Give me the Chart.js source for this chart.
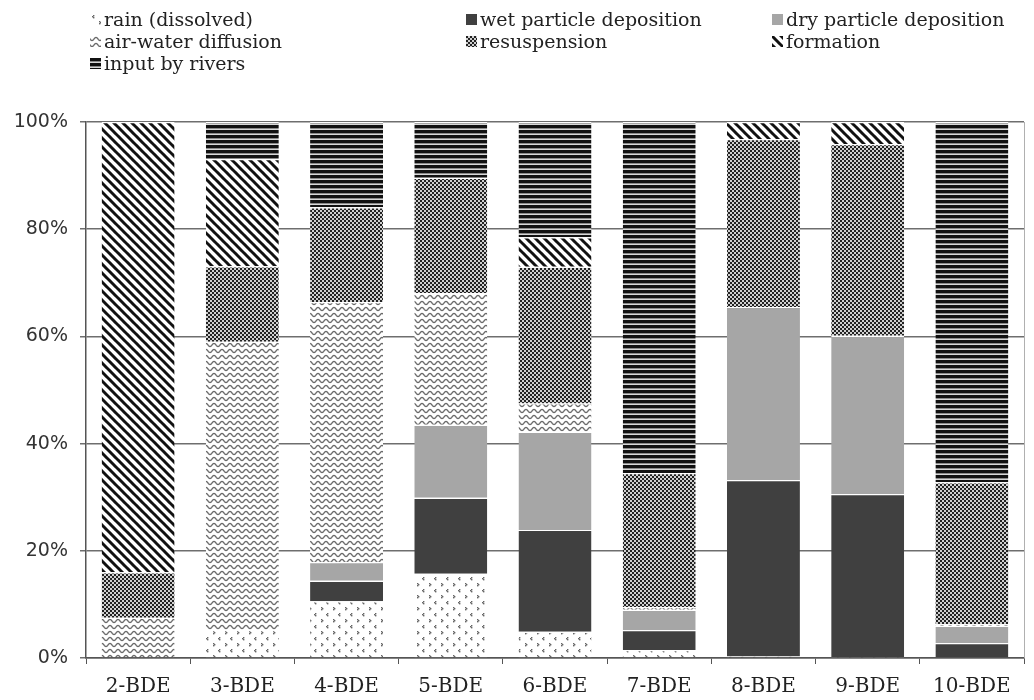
<!DOCTYPE html>
<html>
<head>
<meta charset="utf-8">
<script src="https://cdn.jsdelivr.net/npm/chart.js@4/dist/chart.umd.min.js"></script>
<style>
  body { margin: 0; background: #fff; }
  #wrap { position: relative; width: 1034px; height: 700px; }
  #legend { position: absolute; left: 0; top: 0; width: 1034px; height: 100px; font-family: "DejaVu Serif", serif; font-size: 19px; color: #222; }
  .item { position: absolute; white-space: nowrap; line-height: 22px; }
  .item canvas { display: inline-block; vertical-align: middle; margin-right: 3px; position: relative; top: -2px; }
</style>
</head>
<body>
<div id="wrap">
  <canvas id="chart"></canvas>
  <div id="legend"></div>
</div>
<script>
// data (percent of total input, stacked bottom to top)
const categories = ['2-BDE', '3-BDE', '4-BDE', '5-BDE', '6-BDE', '7-BDE', '8-BDE', '9-BDE', '10-BDE'];
const rain       = [0,    5.2,  10.6, 15.7, 4.9,  1.5, 0.3,  0.2,  0];
const wetDep     = [0,    0,    3.8,  14.2, 19.0, 3.7, 32.9, 30.4, 2.8];
const dryDep     = [0,    0,    3.5,  13.6, 18.3, 3.8, 32.3, 29.5, 3.2];
const airWater   = [7.5,  53.8, 48.5, 24.6, 5.3,  0.5, 0,    0,    0.3];
const resusp     = [8.5,  14.1, 17.7, 21.5, 25.5, 25.0, 31.3, 35.8, 26.5];
const formation  = [84.0, 20.0, 0,    0,    5.5,  0,   3.2,  4.1,  0];
const rivers     = [0,    6.9,  15.9, 10.4, 21.5, 65.5, 0,   0,    67.2];
const yTicks = [0, 20, 40, 60, 80, 100];

// =========================
// fill patterns
// =========================
function tile(w, h, draw) {
  const c = document.createElement('canvas');
  c.width = w; c.height = h;
  const ctx = c.getContext('2d');
  ctx.fillStyle = '#fff';
  ctx.fillRect(0, 0, w, h);
  draw(ctx);
  return c;
}

const tiles = {
  rain: tile(12, 12, ctx => {
    ctx.fillStyle = '#666';
    [[3,1],[2,2],[3,3],[9,7],[10,8],[9,9]].forEach(p => ctx.fillRect(p[0], p[1], 1.4, 1.4));
  }),
  wet: tile(4, 4, ctx => { ctx.fillStyle = '#404040'; ctx.fillRect(0, 0, 4, 4); }),
  dry: tile(4, 4, ctx => { ctx.fillStyle = '#a6a6a6'; ctx.fillRect(0, 0, 4, 4); }),
  air: tile(8, 6, ctx => {
    ctx.strokeStyle = '#6a6a6a';
    ctx.lineWidth = 1.3;
    ctx.beginPath();
    for (let x = -1; x <= 9; x += 0.5) {
      const y = 3 + 1.6 * Math.sin(2 * Math.PI * x / 8);
      if (x === -1) ctx.moveTo(x, y); else ctx.lineTo(x, y);
    }
    ctx.stroke();
  }),
  resusp: tile(4, 4, ctx => {
    ctx.fillStyle = '#d0d0d0';
    ctx.fillRect(0, 0, 4, 4);
    ctx.fillStyle = '#222';
    ctx.fillRect(0, 0, 2, 2);
    ctx.fillRect(2, 2, 2, 2);
  }),
  formation: tile(9, 9, ctx => {
    ctx.strokeStyle = '#111';
    ctx.lineWidth = 3;
    [-9, 0, 9].forEach(x => {
      ctx.beginPath();
      ctx.moveTo(x - 1, -1);
      ctx.lineTo(x + 10, 10);
      ctx.stroke();
    });
  }),
  rivers: tile(4, 5, ctx => {
    ctx.fillStyle = '#111';
    ctx.fillRect(0, 0, 4, 3);
    ctx.fillStyle = '#8a8a8a';
    ctx.fillRect(0, 3, 4, 1);
    ctx.fillStyle = '#d8d8d8';
    ctx.fillRect(0, 4, 4, 1);
  })
};

const ctx = document.getElementById('chart').getContext('2d');
const pat = k => ctx.createPattern(tiles[k], 'repeat');

const seriesList = [
  { label: 'rain (dissolved)', data: rain, key: 'rain' },
  { label: 'wet particle deposition', data: wetDep, key: 'wet' },
  { label: 'dry particle deposition', data: dryDep, key: 'dry' },
  { label: 'air-water diffusion', data: airWater, key: 'air' },
  { label: 'resuspension', data: resusp, key: 'resusp' },
  { label: 'formation', data: formation, key: 'formation' },
  { label: 'input by rivers', data: rivers, key: 'rivers' }
];

// --- legend (3 columns, row-wise) ---
const legendEl = document.getElementById('legend');
const colX = [90, 466, 772];
const rowY = [8, 30, 52];
seriesList.forEach((s, i) => {
  const div = document.createElement('div');
  div.className = 'item';
  div.style.left = colX[i % 3] + 'px';
  div.style.top = rowY[Math.floor(i / 3)] + 'px';
  const sw = document.createElement('canvas');
  sw.width = 11; sw.height = 11;
  const sctx = sw.getContext('2d');
  sctx.fillStyle = sctx.createPattern(tiles[s.key], 'repeat');
  sctx.fillRect(0, 0, 11, 11);
  div.appendChild(sw);
  div.appendChild(document.createTextNode(s.label));
  legendEl.appendChild(div);
});

const rightBorder = {
  id: 'rightBorder',
  afterDatasetsDraw(chart) {
    const a = chart.chartArea, c = chart.ctx;
    c.save();
    c.strokeStyle = '#b0b0b0';
    c.lineWidth = 1;
    c.beginPath();
    c.moveTo(a.right + 0.5, a.top);
    c.lineTo(a.right + 0.5, a.bottom);
    c.stroke();
    c.restore();
  }
};

new Chart(ctx, {
  type: 'bar',
  data: {
    labels: categories,
    datasets: seriesList.map(s => ({
      label: s.label,
      data: s.data,
      backgroundColor: pat(s.key),
      borderColor: '#fff',
      borderWidth: { top: 1.2, bottom: 0, left: 0, right: 0 },
      borderSkipped: false,
      barPercentage: 0.7,
      categoryPercentage: 1.0
    }))
  },
  options: {
    responsive: true,
    maintainAspectRatio: false,
    animation: false,
    layout: { padding: { top: 122, right: 10, left: 0, bottom: 0 } },
    plugins: { legend: { display: false }, tooltip: { enabled: false } },
    scales: {
      x: {
        stacked: true,
        afterFit: s => { s.height = 42; },
        grid: { drawOnChartArea: false, drawTicks: true, tickLength: 6, color: '#555', offset: true },
        border: { display: true, color: '#555', width: 1.5 },
        ticks: { color: '#222', padding: 11, font: { family: 'DejaVu Serif', size: 20 } }
      },
      y: {
        stacked: true,
        min: 0,
        max: 100,
        afterFit: s => { s.width = 86; },
        afterBuildTicks: s => { s.ticks = yTicks.map(v => ({ value: v })); },
        grid: { color: '#6e6e6e', lineWidth: 1.5, tickLength: 6 },
        border: { display: true, color: '#555', width: 1.5 },
        ticks: { color: '#333', padding: 12, font: { family: 'DejaVu Sans', size: 19 }, callback: v => v + '%' }
      }
    }
  },
  plugins: [rightBorder]
});
</script>
</body>
</html>
